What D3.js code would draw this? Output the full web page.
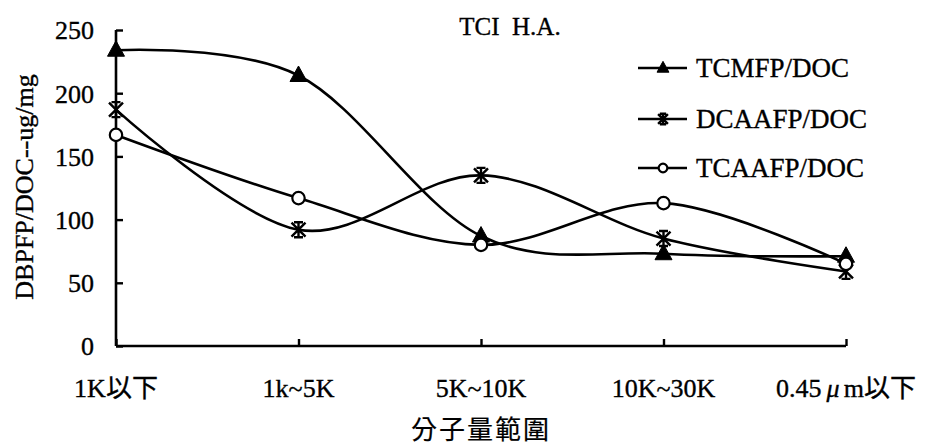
<!DOCTYPE html>
<html>
<head>
<meta charset="utf-8">
<script src="https://cdn.jsdelivr.net/npm/d3@7/dist/d3.min.js"></script>
<style>
  html, body { margin: 0; padding: 0; background: #fff; }
  svg { display: block; }
  svg text { font-family: "Liberation Serif", "Times New Roman", Times, "DejaVu Serif", serif, "Noto Sans CJK TC"; fill: #000; stroke: #000; stroke-width: 0.35px; }
  svg text.cjk { font-family: "Noto Sans CJK TC", "Noto Sans CJK SC", sans-serif; stroke-width: 0.2px; }
</style>
</head>
<body>
<svg id="chart" width="926" height="446"></svg>
<script>
// ---- data ----
const categories = ["1K以下", "1k~5K", "5K~10K", "10K~30K", "0.45μm以下"];
const tcmfp  = [234, 214, 87, 73, 71];
const dcaafp = [187, 92, 135, 85, 59];
const tcaafp = [167, 117, 80, 113, 65];
const yTicks = [0, 50, 100, 150, 200, 250];
const seriesNames = ["TCMFP/DOC", "DCAAFP/DOC", "TCAAFP/DOC"];
const titleText = "TCI\u00a0\u00a0H.A.";
const yTitle = "DBPFP/DOC--ug/mg";
const xTitle = "分子量範圍";

// ---- layout ----
const svg = d3.select("#chart");
const x = d3.scalePoint().domain(categories).range([116, 846]);
const y = d3.scaleLinear().domain([0, 250]).range([346, 30]);

const series = [
  { name: seriesNames[0], values: tcmfp,  marker: "triangle" },
  { name: seriesNames[1], values: dcaafp, marker: "star" },
  { name: seriesNames[2], values: tcaafp, marker: "circle" }
];

function drawMarker(g, type, s) {
  if (type === "triangle") {
    g.append("path")
      .attr("d", `M0,${-s*0.95}L${s*0.85},${s*0.6}L${-s*0.85},${s*0.6}Z`)
      .attr("fill", "#000").attr("stroke", "#000").attr("stroke-width", 1);
  } else if (type === "star") {
    g.append("path")
      .attr("d", `M${-s*0.7},${-s*0.7}L${s*0.7},${s*0.7}M${s*0.7},${-s*0.7}L${-s*0.7},${s*0.7}M0,${-s*0.85}L0,${s*0.85}M${-s*0.45},${-s*0.75}L${s*0.45},${-s*0.75}M${-s*0.45},${s*0.75}L${s*0.45},${s*0.75}`)
      .attr("fill", "none").attr("stroke", "#000").attr("stroke-width", 2.4);
  } else {
    g.append("circle").attr("r", s*0.62)
      .attr("fill", "#fff").attr("stroke", "#000").attr("stroke-width", 2.2);
  }
}

// ---- axes ----
const yAxis = d3.axisLeft(y).tickValues(yTicks).tickSize(-7).tickPadding(22).tickFormat(d3.format("d"));
const gy = svg.append("g").attr("transform", "translate(116,0)").call(yAxis);
gy.attr("font-family", null).attr("font-size", null);
gy.select(".domain").attr("stroke", "#000").attr("stroke-width", 2.6)
  .attr("d", `M0,${y(250)}V${y(0)}`);
gy.selectAll(".tick line").attr("stroke", "#000").attr("stroke-width", 2.4);
gy.selectAll(".tick text").attr("font-size", 26).attr("dy", "0.34em");

const xAxis = d3.axisBottom(x).tickSize(-7).tickPadding(0).tickFormat(() => "");
const gx = svg.append("g").attr("transform", `translate(0,${y(0)})`).call(xAxis);
gx.attr("font-family", null).attr("font-size", null);
gx.select(".domain").attr("stroke", "#000").attr("stroke-width", 2.6)
  .attr("d", `M${x.range()[0]},0H${x.range()[1]}`);
gx.selectAll(".tick line").attr("stroke", "#000").attr("stroke-width", 2.4);

// x tick labels
const xl = svg.append("g").attr("font-size", 26);
categories.forEach((c, i) => {
  const t = xl.append("text").attr("x", x(c)).attr("y", 397).attr("text-anchor", "middle");
  if (c.indexOf("μ") >= 0) {
    const parts = c.split("μ");
    t.append("tspan").text(parts[0]);
    t.append("tspan").attr("dx", 5).attr("font-style", "italic").text("μ");
    t.append("tspan").attr("dx", 4).text(parts[1]);
  } else {
    t.text(c);
  }
});

// titles
svg.append("text").attr("x", 510).attr("y", 35).attr("text-anchor", "middle")
  .attr("font-size", 25).text(titleText);
svg.append("text").attr("transform", "translate(33,187) rotate(-90)")
  .attr("text-anchor", "middle").attr("font-size", 26).text(yTitle);
svg.append("text").attr("class", "cjk").attr("x", x(categories[2])).attr("y", 439).attr("text-anchor", "middle")
  .attr("font-size", 26).attr("letter-spacing", 2).text(xTitle);

// ---- lines ----
const line = d3.line().x((d, i) => x(categories[i])).y(d => y(d)).curve(d3.curveCatmullRom.alpha(0));
series.forEach(s => {
  svg.append("path").datum(s.values).attr("d", line)
    .attr("fill", "none").attr("stroke", "#000").attr("stroke-width", 2.6);
});
series.forEach(s => {
  s.values.forEach((v, i) => {
    const g = svg.append("g").attr("transform", `translate(${x(categories[i])},${y(v)})`);
    drawMarker(g, s.marker, 10);
  });
});

// ---- legend ----
const legendRows = [68, 119, 168];
series.forEach((s, i) => {
  const g = svg.append("g").attr("transform", `translate(638,${legendRows[i]})`);
  g.append("line").attr("x1", 0).attr("x2", 49).attr("y1", 0).attr("y2", 0)
    .attr("stroke", "#000").attr("stroke-width", 2.6);
  const m = g.append("g").attr("transform", "translate(25,0)");
  drawMarker(m, s.marker, 7);
  g.append("text").attr("x", 58).attr("y", 0).attr("dy", "0.35em")
    .attr("font-size", 27).text(s.name);
});
</script>
</body>
</html>
